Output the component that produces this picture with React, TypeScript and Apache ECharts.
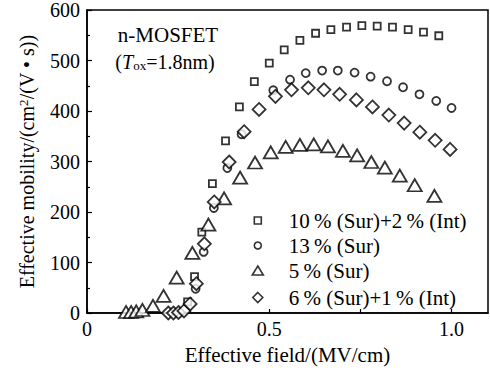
import React, { useEffect, useRef } from "react";
import * as echarts from "echarts";

const FONT = "Liberation Serif";

const seriesNames = [
  "10\u2009% (Sur)+2\u2009% (Int)",
  "13\u2009% (Sur)",
  "5\u2009% (Sur)",
  "6\u2009% (Sur)+1\u2009% (Int)",
];

// 10% (Sur)+2% (Int) — squares
const sqField = [0.276, 0.295, 0.315, 0.344, 0.38, 0.418, 0.459, 0.5, 0.541, 0.584, 0.627, 0.669, 0.712, 0.754, 0.796, 0.838, 0.881, 0.923, 0.965];
const sqMobility = [22, 72, 160, 256, 341, 408, 458, 495, 521, 540, 554, 561, 566, 569, 568, 566, 561, 556, 549];

// 13% (Sur) — circles
const ciField = [0.298, 0.32, 0.348, 0.385, 0.424, 0.511, 0.557, 0.6, 0.645, 0.688, 0.734, 0.778, 0.823, 0.867, 0.912, 0.958, 1.0];
const ciMobility = [48, 121, 208, 287, 354, 441, 462, 475, 480, 480, 476, 468, 459, 447, 433, 420, 406];

// 5% (Sur) — triangles
const trField = [0.107, 0.121, 0.135, 0.152, 0.181, 0.21, 0.246, 0.289, 0.333, 0.376, 0.42, 0.461, 0.504, 0.545, 0.584, 0.622, 0.661, 0.702, 0.741, 0.78, 0.817, 0.858, 0.899, 0.953];
const trMobility = [2, 2, 3, 6, 14, 34, 70, 119, 175, 227, 268, 298, 318, 329, 333, 334, 330, 321, 312, 299, 288, 272, 253, 232];

// 6% (Sur)+1% (Int) — diamonds
const diField = [0.223, 0.237, 0.251, 0.266, 0.283, 0.3, 0.322, 0.349, 0.39, 0.431, 0.472, 0.517, 0.561, 0.607, 0.65, 0.693, 0.739, 0.783, 0.828, 0.87, 0.913, 0.955, 0.996];
const diMobility = [0, 0, 1, 4, 18, 58, 137, 220, 299, 359, 403, 429, 442, 446, 442, 433, 422, 408, 392, 376, 358, 342, 324];

const xTickLabels = ["0", "0.5", "1.0"];
const yTickLabels = ["0", "100", "200", "300", "400", "500", "600"];

const pairs = (xs: number[], ys: number[]) => xs.map((x, i) => [x, ys[i]]);

export default function App() {
  const ref = useRef<HTMLDivElement>(null);

  useEffect(() => {
    if (!ref.current) return;
    const chart = echarts.init(ref.current, null, { renderer: "svg" });
    const markerStyle = { color: "#fff", borderColor: "#000", borderWidth: 1.8 };
    const textBase = { fontFamily: FONT, fontSize: 20, color: "#000" };

    // one legend per series so each icon can have its own size
    const legendIcons: [number, number][] = [[7, 7], [7, 7], [11, 9], [10, 10]];
    const legendTops = [210, 235, 260, 287];
    const iconCenterX = 257;
    const textStartX = 288;
    const legends = seriesNames.map((name, i) => {
      const [w, h] = legendIcons[i];
      const left = iconCenterX - w / 2;
      return {
        orient: "vertical",
        left,
        top: legendTops[i],
        padding: 0,
        itemWidth: w,
        itemHeight: h,
        selectedMode: false,
        textStyle: {
          fontFamily: FONT,
          fontSize: 21,
          color: "#000",
          lineHeight: 20,
          padding: [0, 0, 0, textStartX - (left + w + 5)],
        },
        itemStyle: { borderWidth: 1.6 },
        data: [name],
      };
    });

    chart.setOption({
      animation: false,
      backgroundColor: "#fff",
      grid: {
        left: 87,
        right: 2,
        top: 9,
        bottom: 58,
        show: true,
        borderColor: "#000",
        borderWidth: 1.5,
        backgroundColor: "transparent",
      },
      xAxis: {
        type: "value",
        min: 0,
        max: 1.1,
        interval: 0.25,
        name: "Effective field/(MV/cm)",
        nameLocation: "middle",
        nameGap: 31,
        nameTextStyle: { ...textBase, fontSize: 21 },
        axisLine: { show: true, lineStyle: { color: "#000", width: 1.5 } },
        axisTick: { show: true, inside: true, length: 4, lineStyle: { color: "#000", width: 1.2 } },
        axisLabel: {
          ...textBase,
          margin: 6,
          showMaxLabel: false,
          formatter: (v: number) => {
            if (Math.abs(v) < 1e-9) return xTickLabels[0];
            if (Math.abs(v - 0.5) < 1e-9) return xTickLabels[1];
            if (Math.abs(v - 1) < 1e-9) return xTickLabels[2];
            return "";
          },
        },
        splitLine: { show: false },
      },
      yAxis: {
        type: "value",
        min: 0,
        max: 600,
        interval: 100,
        name: "Effective mobility/(cm{sup|2}/(V • s))",
        nameLocation: "middle",
        nameGap: 50,
        nameTextStyle: {
          ...textBase,
          rich: {
            sup: { fontFamily: FONT, fontSize: 13, color: "#000", lineHeight: 13, verticalAlign: "top" },
          },
        },
        axisLine: { show: true, lineStyle: { color: "#000", width: 1.5 } },
        axisTick: { show: true, inside: true, length: 5, lineStyle: { color: "#000", width: 1.2 } },
        minorTick: { show: true, splitNumber: 2, length: 3, lineStyle: { color: "#000", width: 1.2 } },
        axisLabel: {
          ...textBase,
          margin: 7,
          formatter: (v: number) => (yTickLabels.includes(String(v)) ? String(v) : ""),
        },
        splitLine: { show: false },
      },
      legend: legends,
      graphic: [
        {
          type: "text",
          x: 168,
          y: 35,
          style: { text: "n-MOSFET", font: `21px ${FONT}`, fill: "#000", align: "center", verticalAlign: "middle" },
        },
        {
          type: "text",
          x: 165,
          y: 62,
          style: {
            text: "({i|T}{s|ox}=1.8nm)",
            font: `20px ${FONT}`,
            fill: "#000",
            align: "center",
            verticalAlign: "middle",
            rich: {
              i: { fontFamily: FONT, fontSize: 20, fontStyle: "italic", fill: "#000" },
              s: { fontFamily: FONT, fontSize: 13, fill: "#000", lineHeight: 13, verticalAlign: "bottom" },
            },
          },
        },
      ],
      series: [
        {
          name: seriesNames[0],
          type: "scatter",
          symbol: "rect",
          symbolSize: 7,
          itemStyle: markerStyle,
          data: pairs(sqField, sqMobility),
          z: 2,
        },
        {
          name: seriesNames[1],
          type: "scatter",
          symbol: "circle",
          symbolSize: 8,
          itemStyle: markerStyle,
          data: pairs(ciField, ciMobility),
          z: 2,
        },
        {
          name: seriesNames[2],
          type: "scatter",
          symbol: "triangle",
          symbolSize: [14, 12],
          itemStyle: markerStyle,
          data: pairs(trField, trMobility),
          z: 3,
        },
        {
          name: seriesNames[3],
          type: "scatter",
          symbol: "diamond",
          symbolSize: [13, 13],
          itemStyle: markerStyle,
          data: pairs(diField, diMobility),
          z: 4,
        },
      ],
    });
    return () => chart.dispose();
  }, []);

  return (
    <div
      ref={ref}
      style={{ position: "fixed", left: 0, top: 0, width: 490, height: 371, background: "#fff" }}
    />
  );
}
